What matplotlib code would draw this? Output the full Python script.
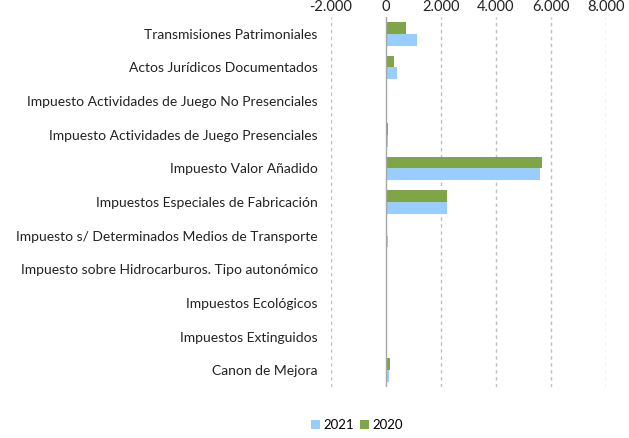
import matplotlib
matplotlib.use("Agg")
import matplotlib.pyplot as plt
import numpy as np
from matplotlib.ticker import FuncFormatter

categories = [
    "Transmisiones Patrimoniales",
    "Actos Jurídicos Documentados",
    "Impuesto Actividades de Juego No Presenciales",
    "Impuesto Actividades de Juego Presenciales",
    "Impuesto Valor Añadido",
    "Impuestos Especiales de Fabricación",
    "Impuesto s/ Determinados Medios de Transporte",
    "Impuesto sobre Hidrocarburos. Tipo autonómico",
    "Impuestos Ecológicos",
    "Impuestos Extinguidos",
    "Canon de Mejora",
]
values_2021 = [1130, 400, 10, 80, 5600, 2230, 80, 10, 20, 5, 110]
values_2020 = [730, 290, 10, 80, 5680, 2220, 40, 10, 20, 5, 145]
xticks = [-2000, 0, 2000, 4000, 6000, 8000]

plt.rcParams['font.family'] = ['Lato', 'DejaVu Sans']

fig = plt.figure(figsize=(6.29, 4.38), dpi=100)
ax = fig.add_axes([331/629, 1-387/438, (606-331)/629, (387-17)/438])

y = np.arange(len(categories))
h = 0.35
ax.barh(y - h/2, values_2020, height=h, color='#7EA646', label='2020', zorder=3)
ax.barh(y + h/2, values_2021, height=h, color='#99CCFF', label='2021', zorder=3)

ax.set_xlim(-2000, 8000)
ax.set_ylim(len(categories) - 0.5, -0.5)
ax.set_yticks(y)
ax.set_yticklabels(categories, fontsize=10, color='#222222')
ax.set_xticks(xticks)
ax.xaxis.set_major_formatter(FuncFormatter(lambda v, p: f"{int(v):,}".replace(",", ".")))
ax.xaxis.tick_top()
ax.tick_params(axis='x', length=0, labelsize=10.5, colors='#222222', pad=2)
ax.tick_params(axis='y', length=0, pad=9.5)

for xv in xticks:
    if xv != 0:
        ax.axvline(xv, color='#BFBFBF', linestyle=(0, (2.5, 2.5)), linewidth=1, zorder=1)
ax.axvline(0, color='#A6A6A6', linewidth=1, zorder=4)
for s in ax.spines.values():
    s.set_visible(False)

handles, labels = ax.get_legend_handles_labels()
fig.legend(handles[::-1], labels[::-1], loc='center', bbox_to_anchor=(357/629, 1-425/438),
           ncol=2, frameon=False, fontsize=9.5, handlelength=0.7, handleheight=0.7,
           handletextpad=0.3, columnspacing=0.4)

fig.savefig("out.png", dpi=100)
